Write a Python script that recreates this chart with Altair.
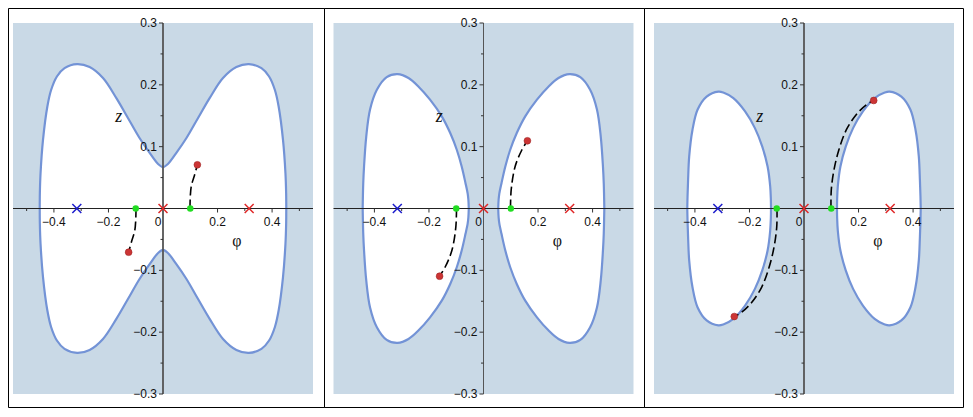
import altair as alt
import pandas as pd

X_DOMAIN = [-0.55, 0.55]
Y_DOMAIN = [-0.3, 0.3]
W, H = 300, 371

# ---------------- contour data (upper half-height h above/below y=0) ----------------
# Panel 1: one butterfly-shaped region
p1_x = [-0.452, -0.4515, -0.449, -0.440, -0.424, -0.410, -0.389, -0.361, -0.315, -0.269, -0.220,
        -0.171, -0.128, -0.086, -0.049, -0.018, 0.0, 0.018, 0.049, 0.086, 0.128, 0.171, 0.220,
        0.269, 0.315, 0.361, 0.389, 0.410, 0.424, 0.440, 0.449, 0.4515, 0.452]
p1_h = [0.0, 0.025, 0.057, 0.111, 0.165, 0.192, 0.2135, 0.227, 0.2335, 0.2287, 0.211,
        0.1785, 0.146, 0.114, 0.090, 0.072, 0.067, 0.072, 0.090, 0.114, 0.146, 0.1785, 0.211,
        0.2287, 0.2335, 0.227, 0.2135, 0.192, 0.165, 0.111, 0.057, 0.025, 0.0]

# Panel 2: two ovals
p2_right_x = [0.054, 0.0555, 0.058, 0.066, 0.080, 0.098, 0.122, 0.153, 0.196, 0.238, 0.275,
              0.315, 0.355, 0.391, 0.416, 0.430, 0.438, 0.441, 0.443]
p2_right_h = [0.0, 0.0145, 0.024, 0.041, 0.068, 0.095, 0.122, 0.149, 0.176, 0.197, 0.211,
              0.2173, 0.2125, 0.192, 0.160, 0.116, 0.068, 0.040, 0.0]
p2_left_x = [-0.443, -0.441, -0.438, -0.430, -0.416, -0.391, -0.355, -0.315, -0.275, -0.238,
             -0.196, -0.153, -0.122, -0.098, -0.080, -0.066, -0.058, -0.0555, -0.054]
p2_left_h = [0.0, 0.040, 0.068, 0.116, 0.160, 0.192, 0.2125, 0.2173, 0.211, 0.197,
             0.176, 0.149, 0.122, 0.095, 0.068, 0.041, 0.024, 0.0145, 0.0]

# Panel 3: two smaller ovals
p3_right_x = [0.121, 0.1215, 0.124, 0.1335, 0.153, 0.180, 0.216, 0.259, 0.296, 0.314, 0.357,
              0.390, 0.409, 0.421, 0.425, 0.427, 0.428]
p3_right_h = [0.0, 0.015, 0.036, 0.068, 0.100, 0.130, 0.157, 0.1785, 0.1876, 0.189, 0.181,
              0.160, 0.127, 0.084, 0.046, 0.020, 0.0]
p3_left_x = [-0.428, -0.427, -0.425, -0.421, -0.409, -0.390, -0.357, -0.314, -0.296, -0.259,
             -0.216, -0.180, -0.153, -0.1335, -0.124, -0.1215, -0.121]
p3_left_h = [0.0, 0.020, 0.046, 0.084, 0.127, 0.160, 0.181, 0.189, 0.1876, 0.1785,
             0.157, 0.130, 0.100, 0.068, 0.036, 0.015, 0.0]

# ---------------- dashed paths (green start -> red end) ----------------
p1_dash_r_x = [0.099, 0.100, 0.104, 0.115, 0.126]
p1_dash_r_y = [0.0, 0.019, 0.037, 0.053, 0.0707]
p1_dash_l_x = [-0.099, -0.100, -0.104, -0.115, -0.126]
p1_dash_l_y = [0.0, -0.019, -0.037, -0.053, -0.0707]

p2_dash_r_x = [0.099, 0.1015, 0.116, 0.141, 0.161]
p2_dash_r_y = [0.0, 0.030, 0.068, 0.095, 0.1095]
p2_dash_l_x = [-0.099, -0.1015, -0.116, -0.141, -0.161]
p2_dash_l_y = [0.0, -0.030, -0.068, -0.095, -0.1095]

p3_dash_r_x = [0.099, 0.100, 0.110, 0.128, 0.155, 0.192, 0.229, 0.2556]
p3_dash_r_y = [0.0, 0.030, 0.0626, 0.095, 0.127, 0.152, 0.168, 0.1747]
p3_dash_l_x = [-0.099, -0.100, -0.110, -0.128, -0.155, -0.192, -0.229, -0.2556]
p3_dash_l_y = [0.0, -0.030, -0.0626, -0.095, -0.127, -0.152, -0.168, -0.1747]

# ---------------- markers ----------------
green_x = [-0.1, 0.1]
green_y = [0.0, 0.0]
p1_red_x, p1_red_y = [0.126, -0.126], [0.0707, -0.0707]
p2_red_x, p2_red_y = [0.161, -0.161], [0.1095, -0.1095]
p3_red_x, p3_red_y = [0.2556, -0.2556], [0.1747, -0.1747]
blue_cross_x = [-0.316]
red_cross_x = [0.0, 0.316]

# ---------------- axes ----------------
x_major = [-0.4, -0.2, 0.2, 0.4]
x_major_labels = ["\u22120.4", "\u22120.2", "0.2", "0.4"]
x_minor = [-0.5, -0.3, -0.1, 0.1, 0.3, 0.5]
y_major = [0.3, 0.2, 0.1, -0.1, -0.2, -0.3]
y_major_labels = ["0.3", "0.2", "0.1", "\u22120.1", "\u22120.2", "\u22120.3"]
y_minor = [0.25, 0.15, 0.05, -0.05, -0.15, -0.25]

phi_pos = (0.271, -0.052)
z_pos = (-0.162, 0.148)

BG = "#c9d9e6"
CURVE = "#7393d6"
XSC = alt.Scale(domain=X_DOMAIN, nice=False, zero=False)
YSC = alt.Scale(domain=Y_DOMAIN, nice=False, zero=False)
X0PIX = W / 2
Y0PIX = H / 2
CROSS = "M -1 -1 L 1 1 M -1 1 L 1 -1"
LABEL_FONT = "Liberation Sans"


def one_row():
    return pd.DataFrame({"k": [0]})


def panel(regions, dashes, red_x, red_y, right_frame, left_frame, yaxis_w):
    rows = []
    for pid, (xs, hs) in enumerate(regions):
        for x, h in zip(xs, hs):
            rows.append({"part": pid, "x": x, "h": h})
    reg_df = pd.DataFrame(rows)

    drows = []
    for sid, (xs, ys) in enumerate(dashes):
        for i, (x, y) in enumerate(zip(xs, ys)):
            drows.append({"seg": sid, "i": i, "x": x, "y": y})
    dash_df = pd.DataFrame(drows)

    X = lambda f: alt.X(f, scale=XSC, axis=None)
    Y = lambda f: alt.Y(f, scale=YSC, axis=None)

    area = alt.Chart(reg_df).transform_calculate(lo="-datum.h").mark_area(
        fill="white", stroke=CURVE, strokeWidth=2.2, interpolate="catmull-rom",
        strokeJoin="round"
    ).encode(x=X("x:Q"), y=alt.Y("h:Q", scale=YSC, axis=None, stack=None),
             y2="lo:Q", detail="part:N")

    x_axis = alt.Chart(one_row()).mark_rule(color="#222", strokeWidth=1).encode(
        x=alt.value(0), x2=alt.value(W), y=alt.value(Y0PIX))
    y_axis = alt.Chart(one_row()).mark_rule(color="#555", strokeWidth=yaxis_w).encode(
        x=alt.value(X0PIX), y=alt.value(0), y2=alt.value(H))

    xmaj = alt.Chart(pd.DataFrame({"v": x_major, "t": x_major_labels}))
    xmaj_t = xmaj.mark_rule(color="#333").encode(
        x=X("v:Q"), y=alt.value(Y0PIX), y2=alt.value(Y0PIX + 4))
    xmaj_l = xmaj.mark_text(font=LABEL_FONT, fontSize=12, color="#111",
                            baseline="alphabetic", align="center").encode(
        x=X("v:Q"), y=alt.value(Y0PIX + 17.5), text="t:N")
    xmin_t = alt.Chart(pd.DataFrame({"v": x_minor})).mark_rule(color="#333").encode(
        x=X("v:Q"), y=alt.value(Y0PIX), y2=alt.value(Y0PIX + 2.5))
    zero_l = alt.Chart(pd.DataFrame({"v": [0.0], "t": ["0"]})).mark_text(
        font=LABEL_FONT, fontSize=12, color="#111", baseline="alphabetic",
        align="right", dx=-1.5).encode(x=X("v:Q"), y=alt.value(Y0PIX + 17.5), text="t:N")

    ymaj = alt.Chart(pd.DataFrame({"v": y_major, "t": y_major_labels}))
    ymaj_t = ymaj.mark_rule(color="#333").encode(
        y=Y("v:Q"), x=alt.value(X0PIX), x2=alt.value(X0PIX - 4))
    ymaj_l = ymaj.mark_text(font=LABEL_FONT, fontSize=12, color="#111",
                            baseline="middle", align="right").encode(
        y=Y("v:Q"), x=alt.value(X0PIX - 6), text="t:N")
    ymin_t = alt.Chart(pd.DataFrame({"v": y_minor})).mark_rule(color="#333").encode(
        y=Y("v:Q"), x=alt.value(X0PIX), x2=alt.value(X0PIX - 2.5))

    dash = alt.Chart(dash_df).mark_line(
        color="black", strokeWidth=1.6, strokeDash=[9, 4], interpolate="catmull-rom"
    ).encode(x=X("x:Q"), y=Y("y:Q"), detail="seg:N", order="i:Q")

    greens = alt.Chart(pd.DataFrame({"x": green_x, "y": green_y})).mark_point(
        filled=True, color="#22dd22", size=42, opacity=1).encode(x=X("x:Q"), y=Y("y:Q"))
    reds = alt.Chart(pd.DataFrame({"x": red_x, "y": red_y})).mark_point(
        filled=True, color="#cc3535", size=46, opacity=1,
        stroke="#a02525", strokeWidth=0.6).encode(x=X("x:Q"), y=Y("y:Q"))

    bcross = alt.Chart(pd.DataFrame({"x": blue_cross_x, "y": [0.0]})).mark_point(
        shape=CROSS, filled=False, color="#1c1ccc", size=80, strokeWidth=1.5,
        opacity=1).encode(x=X("x:Q"), y=Y("y:Q"))
    rcross = alt.Chart(pd.DataFrame({"x": red_cross_x, "y": [0.0, 0.0]})).mark_point(
        shape=CROSS, filled=False, color="#e02828", size=80, strokeWidth=1.5,
        opacity=1).encode(x=X("x:Q"), y=Y("y:Q"))

    phi = alt.Chart(pd.DataFrame({"x": [phi_pos[0]], "y": [phi_pos[1]], "t": ["\u03c6"]})).mark_text(
        font="Liberation Serif", fontSize=16, color="#111", align="center",
        baseline="middle").encode(x=X("x:Q"), y=Y("y:Q"), text="t:N")
    zl = alt.Chart(pd.DataFrame({"x": [z_pos[0]], "y": [z_pos[1]], "t": ["z"]})).mark_text(
        font="Liberation Serif", fontSize=18, fontStyle="italic", color="#111",
        align="center", baseline="middle").encode(x=X("x:Q"), y=Y("y:Q"), text="t:N")

    top = -14.5
    bottom = H + 13.5
    frames = [
        alt.Chart(one_row()).mark_rule(color="black", strokeWidth=1).encode(
            x=alt.value(left_frame), x2=alt.value(right_frame), y=alt.value(top)),
        alt.Chart(one_row()).mark_rule(color="black", strokeWidth=1).encode(
            x=alt.value(left_frame), x2=alt.value(right_frame), y=alt.value(bottom)),
        alt.Chart(one_row()).mark_rule(color="black", strokeWidth=1).encode(
            x=alt.value(right_frame), y=alt.value(top), y2=alt.value(bottom)),
        alt.Chart(one_row()).mark_rule(color="black", strokeWidth=1).encode(
            x=alt.value(left_frame), y=alt.value(top), y2=alt.value(bottom)),
    ]

    layers = [area, x_axis, y_axis, xmaj_t, xmin_t, ymaj_t, ymin_t, xmaj_l, zero_l, ymaj_l,
              dash, greens, reds, bcross, rcross, phi, zl] + frames
    return alt.layer(*layers).properties(width=W, height=H)


panel1 = panel([(p1_x, p1_h)],
               [(p1_dash_r_x, p1_dash_r_y), (p1_dash_l_x, p1_dash_l_y)],
               p1_red_x, p1_red_y, right_frame=311.5, left_frame=-4.5, yaxis_w=1.8)
panel2 = panel([(p2_left_x, p2_left_h), (p2_right_x, p2_right_h)],
               [(p2_dash_r_x, p2_dash_r_y), (p2_dash_l_x, p2_dash_l_y)],
               p2_red_x, p2_red_y, right_frame=311.0, left_frame=-9.0, yaxis_w=1.0)
panel3 = panel([(p3_left_x, p3_left_h), (p3_right_x, p3_right_h)],
               [(p3_dash_r_x, p3_dash_r_y), (p3_dash_l_x, p3_dash_l_y)],
               p3_red_x, p3_red_y, right_frame=309.5, left_frame=-9.5, yaxis_w=1.8)

chart = alt.hconcat(panel1, panel2, panel3, spacing=20.5, bounds="flush").properties(
    padding=0
).configure_view(fill=BG, stroke=None)

chart.save("out.html", embed_options={"renderer": "svg", "actions": False})
